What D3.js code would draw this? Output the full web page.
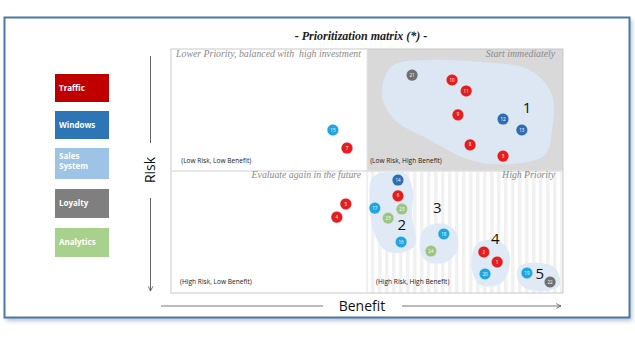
<!DOCTYPE html>
<html><head><meta charset="utf-8">
<script src="https://cdnjs.cloudflare.com/ajax/libs/d3/7.8.5/d3.min.js"></script>
<style>body{margin:0;background:#fff}svg{display:block}text{white-space:pre}</style>
</head><body>
<script>
// ---- data ----
const legendNames = ["Traffic", "Windows", "Sales System", "Loyalty", "Analytics"];
const legendColors = ["#c00000", "#2e75b6", "#9dc3e6", "#7f7f7f", "#a9d18e"];
const dotColors = {red:"#e51d1d", blue:"#2e6db4", cyan:"#1ea6e2", green:"#9cc483", gray:"#6f6f6f"};
// projects: benefit (0-100), risk (0-100, low at top)
const projLabels = ["15","7","21","10","11","9","12","13","8","3","14","6","17","23","25","16","18","24","2","1","20","19","22","5","4"];
const projKinds  = ["cyan","red","gray","red","red","red","blue","blue","red","red","blue","red","cyan","green","green","cyan","cyan","green","red","red","cyan","cyan","gray","red","red"];
const projBenefit= [41.3,44.9,61.5,71.7,75.3,73.2,84.7,89.5,76.3,84.7,57.9,57.9,52.0,58.9,55.4,58.7,69.6,66.3,79.8,83.2,80.1,90.8,96.7,44.6,42.3];
const projRisk   = [33.2,40.6,10.7,12.7,17.2,27.0,28.7,33.2,39.3,43.9,53.7,60.2,65.2,65.6,69.3,79.1,75.8,82.8,83.2,87.3,92.2,91.8,95.5,63.5,68.9];
const clusterNames = ["1","2","3","4","5"];
const clusterBenefit = [90.8,58.9,67.9,82.7,94.1];
const clusterRisk = [24.2,72.1,65.2,77.9,92.2];
const blobBenefit = [
  [56.4,66.1,78.8,91.6,97.2,97.2,95.4,86.5,76.3,66.1,57.1,53.8],
  [51.3,54.6,59.7,61.7,61.5,62.2,58.4,54.6,52.0,50.8],
  [64.8,69.9,72.7,73.0,70.2,65.6,63.5],
  [78.3,83.2,86.0,86.2,83.9,78.8,76.8,77.0],
  [89.0,94.1,98.0,99.2,95.4,90.3,88.3]
];
const blobRisk = [
  [7.0,4.5,5.3,8.6,18.9,33.2,43.4,47.1,45.5,37.3,29.1,18.9],
  [52.9,50.4,50.8,57.8,68.0,80.3,83.6,82.4,76.2,66.0],
  [73.4,71.7,75.0,82.4,87.3,87.3,82.4],
  [79.5,78.3,82.4,90.6,96.3,96.7,90.6,83.2],
  [88.9,87.7,89.8,96.7,99.2,98.0,93.4]
];
const quadTitles = ["Lower Priority, balanced with  high investment","Start immediately","Evaluate again in the future","High Priority"];
const quadCorners = ["(Low Risk, Low Benefit)","(Low Risk, High Benefit)","(High Risk, Low Benefit)","(High Risk, High Benefit)"];

// ---- drawing ----
const W = 635, H = 337;
const svg = d3.select("body").append("svg").attr("width", W).attr("height", H);
const defs = svg.append("defs");
const pat = defs.append("pattern").attr("id","stripes").attr("patternUnits","userSpaceOnUse").attr("width",7).attr("height",10);
pat.append("rect").attr("width",7).attr("height",10).attr("fill","#ffffff");
pat.append("rect").attr("width",3.5).attr("height",10).attr("fill","#f1f1f1");
const blur = defs.append("filter").attr("id","sh").attr("x","-5%").attr("y","-5%").attr("width","110%").attr("height","115%");
blur.append("feGaussianBlur").attr("stdDeviation",2);
const arr = defs.append("marker").attr("id","arr").attr("viewBox","0 0 10 10").attr("refX",9).attr("refY",5)
  .attr("markerWidth",6).attr("markerHeight",6).attr("orient","auto");
arr.append("path").attr("d","M1,1 L9,5 L1,9").attr("fill","none").attr("stroke","#555").attr("stroke-width",1.3);

// frame
svg.append("rect").attr("x",6).attr("y",20).attr("width",626).attr("height",301).attr("fill","#b8c4d0").attr("filter","url(#sh)");
svg.append("rect").attr("x",4.5).attr("y",17.5).attr("width",625).attr("height",300).attr("fill","#fff").attr("stroke","#4a78a8").attr("stroke-width",2);

const x = d3.scaleLinear().domain([0,100]).range([171,563]);
const y = d3.scaleLinear().domain([0,100]).range([49,293]);

svg.append("text").attr("x",361).attr("y",40).attr("text-anchor","middle")
  .attr("font-family","Liberation Serif, serif").attr("font-style","italic").attr("font-weight","bold")
  .attr("font-size",12).attr("fill","#222").text("- Prioritization matrix (*) -");

// quadrants
const q = svg.append("g");
q.append("rect").attr("x",x(0)).attr("y",y(0)).attr("width",x(50)-x(0)).attr("height",y(50)-y(0)).attr("fill","#fff");
q.append("rect").attr("x",x(50)).attr("y",y(0)).attr("width",x(100)-x(50)).attr("height",y(50)-y(0)).attr("fill","#d9d9d9");
q.append("rect").attr("x",x(0)).attr("y",y(50)).attr("width",x(50)-x(0)).attr("height",y(100)-y(50)).attr("fill","#fff");
q.append("rect").attr("x",x(50)).attr("y",y(50)).attr("width",x(100)-x(50)).attr("height",y(100)-y(50)).attr("fill","url(#stripes)");
q.append("rect").attr("x",x(0)).attr("y",y(0)).attr("width",x(100)-x(0)).attr("height",y(100)-y(0)).attr("fill","none").attr("stroke","#c8c8c8").attr("stroke-width",1);
q.append("line").attr("x1",x(0)).attr("x2",x(100)).attr("y1",y(50)).attr("y2",y(50)).attr("stroke","#e0e0e0").attr("stroke-width",1.5);
q.append("line").attr("x1",x(50)).attr("x2",x(50)).attr("y1",y(0)).attr("y2",y(100)).attr("stroke","#e6e6e6").attr("stroke-width",1);

// quadrant titles
const tSpec = [[x(1.3),y(3.4),"start"],[x(98),y(3.4),"end"],[x(48.5),y(53),"end"],[x(98),y(53),"end"]];
quadTitles.forEach((t,i)=>{
  q.append("text").attr("x",tSpec[i][0]).attr("y",tSpec[i][1]).attr("text-anchor",tSpec[i][2])
   .attr("font-family","Liberation Serif, serif").attr("font-style","italic").attr("font-size",9.8)
   .attr("fill","#8a8a8a").text(t);
});

// blobs
const line = d3.line().curve(d3.curveCatmullRomClosed.alpha(0.5));
blobBenefit.forEach((bb,i)=>{
  const pts = bb.map((b,j)=>[x(b), y(blobRisk[i][j])]);
  svg.append("path").attr("d",line(pts)).attr("fill", i===0 ? "#dce8f4" : "#dde9f6").attr("opacity",0.95);
});

// corner labels
const cSpec = [[x(2.6),y(46.7)],[x(50.8),y(46.7)],[x(2.3),y(96.3)],[x(52.3),y(96.3)]];
quadCorners.forEach((t,i)=>{
  svg.append("text").attr("x",cSpec[i][0]).attr("y",cSpec[i][1])
   .attr("font-family","Open Sans, sans-serif").attr("font-size",6.6).attr("fill","#222").text(t);
});

// cluster numbers
clusterNames.forEach((t,i)=>{
  svg.append("text").attr("x",x(clusterBenefit[i])).attr("y",y(clusterRisk[i])).attr("dy","0.36em")
   .attr("text-anchor","middle").attr("font-family","Open Sans, sans-serif").attr("font-size",15).attr("fill","#111").text(t);
});

// dots
const dg = svg.append("g");
projLabels.forEach((t,i)=>{
  const g = dg.append("g").attr("transform",`translate(${x(projBenefit[i])},${y(projRisk[i])})`);
  g.append("circle").attr("r",5.8).attr("fill",dotColors[projKinds[i]]).attr("stroke","rgba(255,255,255,0.5)").attr("stroke-width",0.6);
  g.append("text").attr("dy","0.35em").attr("text-anchor","middle").attr("font-family","Open Sans, sans-serif")
   .attr("font-size",4.5).attr("fill","#fff").text(t);
});

// legend
const lgY = [74,111,148,189,228];
const lgH = [28,28,31,29,29];
legendNames.forEach((n,i)=>{
  svg.append("rect").attr("x",55).attr("y",lgY[i]).attr("width",54).attr("height",lgH[i]).attr("fill",legendColors[i]);
  const words = n.split(" ");
  const tx = svg.append("text").attr("x",59).attr("font-family","Open Sans, sans-serif").attr("font-weight","bold")
    .attr("font-size",8).attr("fill","#fff");
  if (words.length === 1) {
    tx.attr("y", lgY[i] + lgH[i]/2).attr("dy","0.35em").text(n);
  } else {
    words.forEach((w,k)=>tx.append("tspan").attr("x",59).attr("y",lgY[i]+11+k*10).text(w));
  }
});

// risk axis
svg.append("line").attr("x1",150.5).attr("x2",150.5).attr("y1",56).attr("y2",143).attr("stroke","#666").attr("stroke-width",1);
svg.append("line").attr("x1",150.5).attr("x2",150.5).attr("y1",198).attr("y2",291).attr("stroke","#666").attr("stroke-width",1).attr("marker-end","url(#arr)");
svg.append("text").attr("transform","translate(150,170) rotate(-90)").attr("text-anchor","middle").attr("dy","0.35em")
  .attr("font-family","Open Sans, sans-serif").attr("font-size",14).attr("fill","#111").text("Risk");
// benefit axis
svg.append("line").attr("x1",161).attr("x2",323).attr("y1",306).attr("y2",306).attr("stroke","#777").attr("stroke-width",1);
svg.append("line").attr("x1",402).attr("x2",561).attr("y1",306).attr("y2",306).attr("stroke","#777").attr("stroke-width",1).attr("marker-end","url(#arr)");
svg.append("text").attr("x",362).attr("y",306).attr("dy","0.35em").attr("text-anchor","middle")
  .attr("font-family","Open Sans, sans-serif").attr("font-size",14).attr("fill","#111").text("Benefit");
</script>
</body></html>
